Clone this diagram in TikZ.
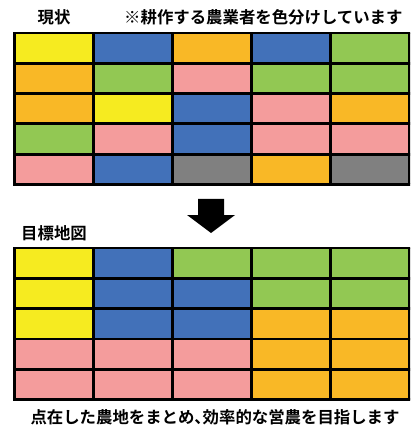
\documentclass[tikz,border=0pt]{standalone}
\usepackage{fontspec}
\newfontfamily\jp{Noto Sans CJK JP}[BoldFont={Noto Sans CJK JP Bold}]
\definecolor{cY}{HTML}{F6EB20}
\definecolor{cB}{HTML}{4271B9}
\definecolor{cO}{HTML}{F9B826}
\definecolor{cG}{HTML}{92C853}
\definecolor{cP}{HTML}{F49C9C}
\definecolor{cR}{HTML}{808080}
\tikzset{
  lbl/.style={font=\jp\bfseries\fontsize{16.4}{19}\selectfont, inner sep=0pt, text=black},
  gridline/.style={draw=black, line width=2.8pt},
}
\begin{document}
\begin{tikzpicture}[x=1pt,y=-1pt]
\clip (0,0) rectangle (410,427);
\fill[white] (0,0) rectangle (410,427);
% top grid
\def\xa{14.5}\def\cw{79}
\def\ya{33}\def\rh{30.3}
\foreach \row [count=\r from 0] in {{cY,cB,cO,cB,cG},{cO,cG,cP,cG,cG},{cO,cY,cB,cP,cO},{cG,cP,cB,cP,cP},{cP,cB,cR,cO,cR}}{
  \foreach \c [count=\k from 0] in \row {
    \fill[\c] (\xa+\k*\cw,\ya+\r*\rh) rectangle ++(\cw,\rh);
  }
}
\foreach \k in {0,...,5} \draw[gridline] (\xa+\k*\cw,\ya) -- ++(0,5*\rh);
\foreach \r in {0,...,5} \draw[gridline] (\xa-1.4,\ya+\r*\rh) -- ++(5*\cw+2.8,0);
% bottom grid
\def\yb{248}
\foreach \row [count=\r from 0] in {{cY,cB,cG,cG,cG},{cY,cB,cB,cG,cG},{cY,cB,cB,cO,cO},{cP,cP,cP,cO,cO},{cP,cP,cP,cO,cO}}{
  \foreach \c [count=\k from 0] in \row {
    \fill[\c] (\xa+\k*\cw,\yb+\r*\rh) rectangle ++(\cw,\rh);
  }
}
\foreach \k in {0,...,5} \draw[gridline] (\xa+\k*\cw,\yb) -- ++(0,5*\rh);
\foreach \r in {0,...,5} \draw[gridline] (\xa-1.4,\yb+\r*\rh) -- ++(5*\cw+2.8,0);
% arrow
\fill[black] (198,199) -- (224,199) -- (224,215) -- (235,215) -- (211,233) -- (187,215) -- (198,215) -- cycle;
% texts
\node[lbl] (genjo) at (54,17) {現状};
\node[lbl, anchor=west] (note) at (124,17) {※耕作する農業者を色分けしています};
\node[lbl, anchor=west] (mokuhyo) at (21,233) {目標地図};
\node[lbl] (goal) at (215,417) {点在した農地をまとめ{\addfontfeature{RawFeature=+palt}、}効率的な営農を目指します};
\end{tikzpicture}
\end{document}
